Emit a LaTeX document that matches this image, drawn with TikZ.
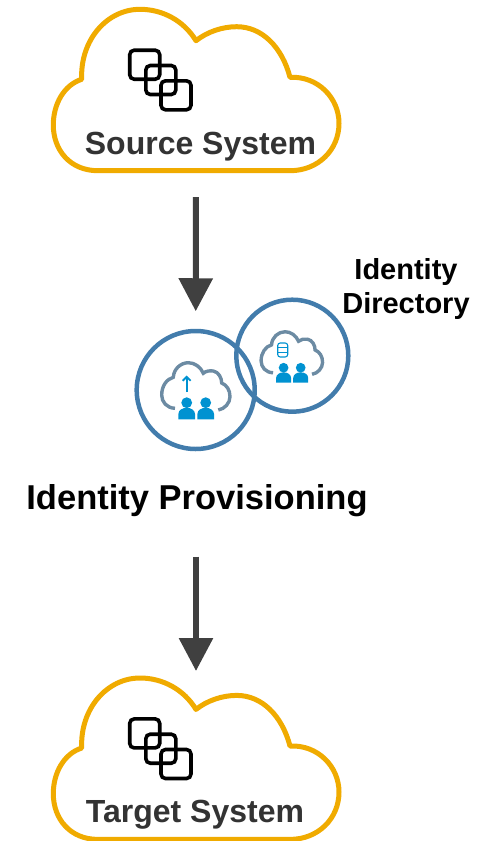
\documentclass[tikz,border=0pt]{standalone}
\usepackage{fontspec}
\setmainfont{Liberation Sans}
\usetikzlibrary{arrows.meta}
\definecolor{cloudgold}{HTML}{F0AB00}
\definecolor{ringblue}{HTML}{427CAC}
\definecolor{slategrey}{HTML}{6C8BA3}
\definecolor{peopleblue}{HTML}{0092D1}
\definecolor{flowgrey}{HTML}{404040}
\definecolor{labelgrey}{HTML}{333333}
\tikzset{
	cloudbox/.style={minimum width=288pt, minimum height=162pt, inner sep=0pt},
	ring/.style={circle, draw=ringblue, line width=4.5pt, minimum size=118pt, inner sep=0pt},
	flow/.style={draw=flowgrey, line width=6pt, -{Triangle[length=33pt,width=33pt]}},
	title/.style={font=\bfseries\fontsize{32}{34}\selectfont, inner sep=0pt, anchor=base},
	pics/bigcloud/.style={code={
		\draw[cloudgold, line width=5pt, line join=round, shift={(-196,-90)}]
			(81.7,79.3) .. controls (64,85) and (53.3,104) .. (53.3,125)
			.. controls (53.3,150) and (70,170.7) .. (98,170.7) -- (290,170.7)
			.. controls (318,170.7) and (339,150) .. (339,123.3)
			.. controls (339,98) and (318,76) .. (290,77.3)
			.. controls (282,47) and (262,26.7) .. (236.7,26.7)
			.. controls (222,26.7) and (207,32) .. (196,40.7)
			.. controls (184,21) and (163,9.3) .. (140,9.3)
			.. controls (107,9.3) and (80,40) .. (81.7,79.3) -- cycle;
		\foreach \cx/\cy in {144.7/64.7, 160.8/80, 176/95.3}
			\draw[black, line width=3.6pt, rounded corners=4.5pt, shift={(-196,-90)}]
				(\cx-15,\cy-14.5) rectangle (\cx+15,\cy+14.5);
	}},
	pics/smallcloud/.style={code={
		\draw[slategrey, line width=3.4pt]
			(-20.7,18.3) .. controls (-29,18) and (-34,12) .. (-34,5)
			.. controls (-34,-4) and (-29,-11) .. (-22.4,-12.7)
			.. controls (-22,-21) and (-15,-27.3) .. (-7.4,-27.3)
			.. controls (-1,-27.3) and (5,-23) .. (7.6,-16.7)
			.. controls (10,-19) and (14,-19.5) .. (17.6,-19)
			.. controls (23,-18) and (26,-12) .. (26,-7)
			.. controls (31,-5) and (34.3,0) .. (34.3,6.7)
			.. controls (34.3,13) and (29,19) .. (22.6,20);
		\foreach \px in {-9,10} {
			\fill[peopleblue] (\px,12.7) circle (5.4);
			\fill[peopleblue] (\px-8.3,29.3) -- (\px-8.3,24) .. controls (\px-8.3,20) and (\px-4,17.8) .. (\px,17.8)
				.. controls (\px+4,17.8) and (\px+8.3,20) .. (\px+8.3,24) -- (\px+8.3,29.3) -- cycle;
		}
	}},
}
\begin{document}
\begin{tikzpicture}[x=1pt, y=-1pt]
	\useasboundingbox (0,0) rectangle (496,841);
	\node[cloudbox] (source) at (196,90) {};
	\node[cloudbox] (target) at (196,758.7) {};
	\node[ring] (provisioning) at (195.7,390) {};
	\node[ring, minimum size=112pt] (directory) at (292.3,355.7) {};
	\pic at (source) {bigcloud};
	\pic at (target) {bigcloud};
	\pic at (provisioning) {smallcloud};
	\pic[scale=.9] at (291.7,356.3) {smallcloud};
	\draw[peopleblue, line width=1.8pt, -{Straight Barb[length=4pt,width=8pt]}] (186.7,392) -- (186.7,375.5);
	% database
	\draw[peopleblue, line width=1.1pt, fill=white, rounded corners=2.5pt] (277.7,343) rectangle (287.7,357);
	\draw[peopleblue, line width=1.1pt] (277.7,347.5) -- (287.7,347.5) (277.7,352.3) -- (287.7,352.3);
	\node[title, text=labelgrey] (sourcetext) at (200.5,154) {Source System};
	\node[title, text=labelgrey] (targettext) at (195,822.3) {Target System};
	\node[title, font=\bfseries\fontsize{34.5}{36}\selectfont] (provisioningtext) at (197,509) {Identity Provisioning};
	\node[title, font=\bfseries\fontsize{29}{34}\selectfont, anchor=center] (directorytext) [align=center] at (406,288.5) {Identity\\Directory};
	\draw[flow, shorten <=26pt, shorten >=17.5pt] (source.south) -- (provisioning.north);
	\draw[flow, shorten <=40pt, shorten >=6.5pt] (provisioningtext.south -| target.north) -- (target.north);
\end{tikzpicture}
\end{document}
